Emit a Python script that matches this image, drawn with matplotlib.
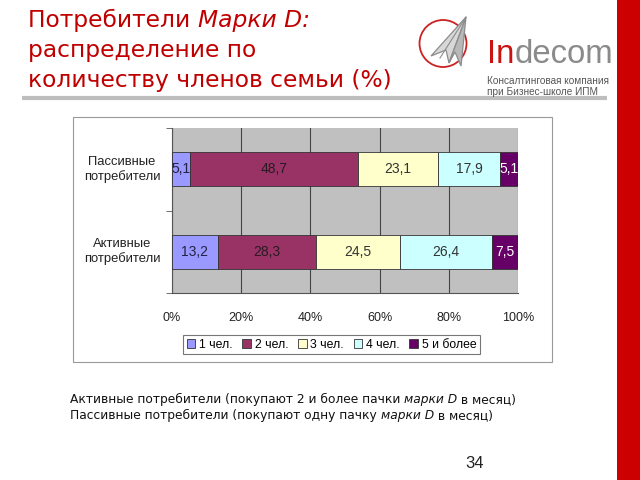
import matplotlib
matplotlib.use("Agg")
import matplotlib.pyplot as plt
from matplotlib.patches import Rectangle, Circle, Polygon
import numpy as np

plt.rcParams['font.family'] = ['Liberation Sans', 'DejaVu Sans']

# ---- data ----
categories = ["Активные\nпотребители", "Пассивные\nпотребители"]
series_names = ["1 чел.", "2 чел.", "3 чел.", "4 чел.", "5 и более"]
values = {
    "1 чел.":    [13.2, 5.1],
    "2 чел.":    [28.3, 48.7],
    "3 чел.":    [24.5, 23.1],
    "4 чел.":    [26.4, 17.9],
    "5 и более": [7.5, 5.1],
}
x_ticks = [0, 20, 40, 60, 80, 100]
x_tick_labels = ["0%", "20%", "40%", "60%", "80%", "100%"]

colors = ["#9999FF", "#993366", "#FFFFCC", "#CCFFFF", "#660066"]
label_colors = ["#222244", "#2A1A22", "#333333", "#333333", "#FFFFFF"]

W, H = 640, 480
fig = plt.figure(figsize=(6.4, 4.8), dpi=100)
fig.patch.set_facecolor("white")

# decoration overlay in pixel coordinates (origin top-left)
deco = fig.add_axes([0, 0, 1, 1], zorder=0)
deco.set_xlim(0, W)
deco.set_ylim(H, 0)
deco.axis("off")

red = "#C00000"
slide_font = ["DejaVu Sans"]

# right red stripe
deco.add_patch(Rectangle((617, 0), 23, H, facecolor="#CC0000", edgecolor="none"))

# title
title_lines = [
    [("Потребители ", "normal"), ("Марки D:", "italic")],
    [("распределение по", "normal")],
    [("количеству членов семьи (%)", "normal")],
]
ty = [27, 57, 87]
fig.canvas.draw()
for line, yb in zip(title_lines, ty):
    x0 = 28
    for txt, style in line:
        t = deco.text(x0, yb, txt, fontsize=16.8, color=red, family=slide_font,
                      style=style, va="baseline", ha="left")
        fig.canvas.draw()
        x0 += t.get_window_extent().width

# gray separator line
deco.plot([22, 607], [98, 98], color="#BEBEBE", lw=3, solid_capstyle="butt")

# logo circle and paper plane
deco.add_patch(Circle((443, 43.5), 23.5, facecolor="none", edgecolor="#CC2222", lw=1.3))
deco.add_patch(Polygon([(466, 17), (431, 56), (446, 50), (449, 63)], closed=True,
                       facecolor="#D8D8D8", edgecolor="#8C8C8C", lw=0.9))
deco.add_patch(Polygon([(466, 17), (449, 63), (455, 52), (461, 66)], closed=True,
                       facecolor="#B8B8B8", edgecolor="#8C8C8C", lw=0.9))
deco.plot([466, 440], [17, 58], color="#8C8C8C", lw=0.8)

t_in = deco.text(487, 63, "In", fontsize=23.7, color="#CC1111", va="baseline", ha="left")
fig.canvas.draw()
deco.text(487 + t_in.get_window_extent().width, 63, "decom", fontsize=23.7,
          color="#8A8A8A", va="baseline", ha="left")
deco.text(487, 84, "Консалтинговая компания", fontsize=7.2, color="#555555",
          va="baseline")
deco.text(487, 95, "при Бизнес-школе ИПМ", fontsize=7.2, color="#555555",
          va="baseline")

# chart frame
deco.add_patch(Rectangle((73, 117), 552 - 73, 362 - 117, facecolor="white",
                         edgecolor="#999999", lw=0.8))

def fx(px):
    return px / W

def fy(py):
    return 1 - py / H

ax = fig.add_axes([fx(172), fy(293), (518 - 172) / W, (293 - 128) / H], zorder=2)
ax.set_facecolor("#C0C0C0")
ypos = np.arange(len(categories))
left = np.zeros(len(categories))
bar_h = 0.41
for i, name in enumerate(series_names):
    vals = np.array(values[name])
    ax.barh(ypos, vals, left=left, height=bar_h, color=colors[i],
            edgecolor="#333333", linewidth=0.6, label=name, zorder=3)
    for j, v in enumerate(vals):
        ax.text(left[j] + v / 2, ypos[j], f"{v:.1f}".replace(".", ","),
                ha="center", va="center", fontsize=10, color=label_colors[i],
                zorder=4)
    left = left + vals

ax.set_xlim(0, 100)
ax.set_ylim(-0.5, 1.5)
ax.set_xticks(x_ticks)
ax.set_xticklabels(x_tick_labels, fontsize=9, color="#222222")
ax.set_yticks(ypos)
ax.set_yticklabels([])
for j, cat in enumerate(categories):
    ax.text((122 - 172) / 346, ypos[j], cat, transform=ax.get_yaxis_transform(),
            ha="center", va="center", multialignment="center", fontsize=9.4,
            color="#222222", linespacing=1.25)
ax.set_yticks([-0.5, 0.5, 1.5], minor=True)
ax.tick_params(axis="y", which="major", length=0)
ax.tick_params(axis="y", which="minor", length=4, color="#555555", direction="out")
ax.tick_params(axis="x", length=0, pad=13.5)
ax.xaxis.grid(True, color="#444444", lw=0.8, zorder=1)
ax.set_axisbelow(True)
for s in ["top", "right"]:
    ax.spines[s].set_visible(False)
for s in ["left", "bottom"]:
    ax.spines[s].set_color("#555555")
    ax.spines[s].set_linewidth(0.8)

leg = fig.legend(loc="center", bbox_to_anchor=(fx(331.5), fy(344.5)), ncol=5,
                 fontsize=8.8, frameon=True, fancybox=False, edgecolor="#555555",
                 handlelength=0.7, handleheight=0.7, handletextpad=0.3,
                 columnspacing=0.8, borderpad=0.3, borderaxespad=0)
leg.get_frame().set_linewidth(0.8)
leg.set_zorder(3)

# bottom notes
notes = [
    [("Активные потребители (покупают 2 и более пачки ", "normal"), ("марки D", "italic"),
     (" в месяц)", "normal")],
    [("Пассивные потребители (покупают одну пачку ", "normal"), ("марки D", "italic"),
     (" в месяц)", "normal")],
]
for line, yb in zip(notes, [403, 419]):
    x0 = 70
    for txt, style in line:
        t = deco.text(x0, yb, txt, fontsize=8.8, color="#111111", family=slide_font,
                      style=style, va="baseline", ha="left")
        fig.canvas.draw()
        x0 += t.get_window_extent().width

deco.text(465, 468, "34", fontsize=12, color="#222222", va="baseline")

fig.savefig("out.png", dpi=100)
